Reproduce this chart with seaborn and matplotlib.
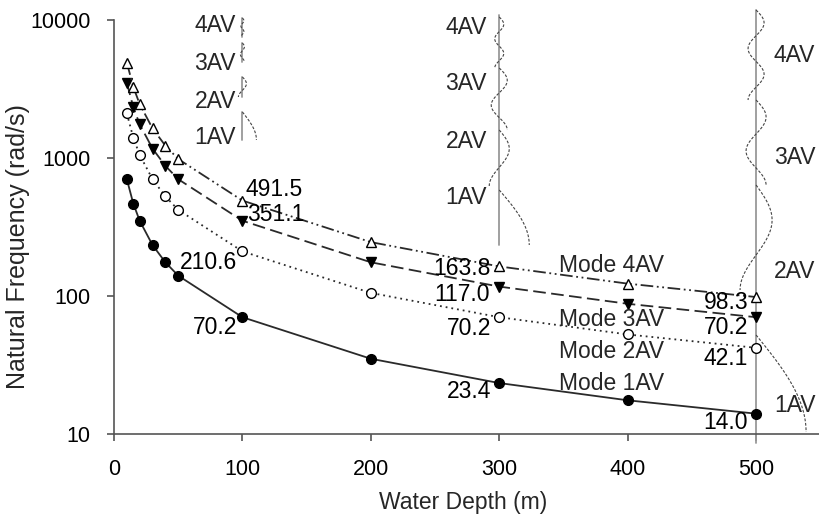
import numpy as np
import pandas as pd
import matplotlib
matplotlib.use("Agg")
import matplotlib.pyplot as plt
import seaborn as sns

# ---------------- data ----------------
depth = [10, 15, 20, 30, 40, 50, 100, 200, 300, 400, 500]
mode_1av = [702, 468, 351, 234, 175.5, 140.4, 70.2, 35.1, 23.4, 17.55, 14.04]
mode_2av = [2106, 1404, 1053, 702, 526.5, 421.2, 210.6, 105.3, 70.2, 52.65, 42.12]
mode_3av = [3511, 2340, 1755, 1170, 877.6, 702.2, 351.1, 175.5, 117.0, 87.8, 70.2]
mode_4av = [4915, 3277, 2458, 1638, 1229, 983, 491.5, 245.7, 163.8, 122.9, 98.3]
mode_names = ["Mode 1AV", "Mode 2AV", "Mode 3AV", "Mode 4AV"]
shape_names = ["1AV", "2AV", "3AV", "4AV"]
labelled_depths = [100, 300, 500]
x_ticks = [0, 100, 200, 300, 400, 500]
y_ticks = [10, 100, 1000, 10000]

series = [mode_1av, mode_2av, mode_3av, mode_4av]

# ---------------- style ----------------
sns.set_style("ticks")
plt.rcParams["font.family"] = ["Liberation Sans", "DejaVu Sans"]
FS_TICK = 15.5
FS = 16.5

W, H = 819, 517
fig = plt.figure(figsize=(W / 100, H / 100), dpi=100)
AX_L, AX_R, AX_T, AX_B = 114, 819, 20, 434
ax = fig.add_axes([AX_L / W, (H - AX_B) / H, (AX_R - AX_L) / W, (AX_B - AX_T) / H])
XMAX = 549

def fx(px):
    return (px - AX_L) / (AX_R - AX_L)

def fy(py):
    return (AX_B - py) / (AX_B - AX_T)

line_color = "#2a2a2a"
styles = [
    dict(marker="o", mfc="black", mec="black", ls="-"),
    dict(marker="o", mfc="white", mec="black", ls=(0, (1, 2.2))),
    dict(marker="v", mfc="black", mec="black", ls=(0, (7, 3))),
    dict(marker="^", mfc="white", mec="black", ls=(0, (7, 2, 1, 2, 1, 2))),
]

for vals, name, st in zip(series, mode_names, styles):
    df = pd.DataFrame({"depth": depth, "freq": vals})
    sns.lineplot(data=df, x="depth", y="freq", ax=ax, color=line_color,
                 linestyle=st["ls"], linewidth=1.3, marker=st["marker"],
                 markersize=7, markerfacecolor=st["mfc"],
                 markeredgecolor=st["mec"], markeredgewidth=1.0,
                 zorder=3, legend=False)

ax.set_yscale("log")
ax.set_xlim(0, XMAX)
ax.set_ylim(10, 10000)
ax.set_xticks(x_ticks)
ax.set_xticklabels([str(v) for v in x_ticks])
ax.set_yticks(y_ticks)
ax.set_yticklabels([str(v) for v in y_ticks])
ax.yaxis.set_minor_locator(matplotlib.ticker.NullLocator())
for s in ["top", "right"]:
    ax.spines[s].set_visible(False)
for s in ["left", "bottom"]:
    ax.spines[s].set_color("#555555")
    ax.spines[s].set_linewidth(1.2)
ax.tick_params(axis="both", colors="#555555", labelcolor="black",
               labelsize=FS_TICK, length=5, width=1.2)
ax.tick_params(axis="x", pad=13)
ax.tick_params(axis="y", pad=12)
ax.grid(False)

ax.set_xlabel("Water Depth (m)", fontsize=FS)
ax.set_ylabel("Natural Frequency (rad/s)", fontsize=18)
ax.xaxis.set_label_coords(fx(463), fy(491))
ax.yaxis.set_label_coords(fx(30), fy(247))

# ---------------- value labels ----------------
# offsets in pixels (dx, dy) and horizontal alignment, per depth & mode
label_fmt = {
    100: [(-5, -10, "right"), (-5, -11, "right"), (5, 6, "left"), (3, 11, "left")],
    300: [(-8, -8, "right"), (-8, -11, "right"), (-9, -8, "right"), (-9, -2, "right")],
    500: [(-8, -9, "right"), (-8, -11, "right"), (-8, -10, "right"), (-8, -5, "right")],
}
for d in labelled_depths:
    i = depth.index(d)
    for k, vals in enumerate(series):
        dx, dy, ha = label_fmt[d][k]
        ax.annotate(f"{vals[i]:.1f}", (d, vals[i]), xytext=(dx, dy),
                    textcoords="offset pixels", ha=ha, va="center",
                    fontsize=FS, color="black", zorder=4)

# mode names
for name, py in zip(mode_names, [383, 351, 319, 265]):
    ax.text(fx(559), fy(py), name, transform=ax.transAxes, ha="left",
            va="center", fontsize=FS)

# ---------------- mode shape sketches ----------------
shape_kw = dict(color="#444444", lw=0.8, ls=(0, (2.5, 1.5)),
                transform=ax.transAxes, clip_on=False, zorder=2)
vline_kw = dict(color="#999999", lw=1.3, transform=ax.transAxes,
                clip_on=False, zorder=1)

def draw_shape(px0, top, bot, n, amp):
    s = np.linspace(0, 1, 80)
    off = amp * np.sin((2 * n - 1) * np.pi / 2 * s)
    ax.plot(fx(px0 + off), fy(top + s * (bot - top)), **shape_kw)

# shapes: (top px, bottom px, amplitude px) for modes 1..4
sketches = {
    100: [(112, 140, 14), (77, 97, 4), (43, 62, 2), (18, 37, 1.5)],
    300: [(190, 245, 30), (130, 186, 10), (68, 130, 8), (17, 68, 4.5)],
    500: [(335, 432, 50), (185, 290, 16), (100, 185, 10), (10, 100, 8)],
}
vlines = {300: (15, 245), 500: (10, 443)}
text_pos = {
    100: ("right", 236, [137, 101, 63, 26]),
    300: ("right", 487, [198, 142, 83, 27]),
    500: ("left", 774, [405, 271, 157, 56]),
}
for d, specs in sketches.items():
    px0 = AX_L + d * (AX_R - AX_L) / XMAX
    if d in vlines:
        t, b = vlines[d]
        ax.plot([fx(px0), fx(px0)], [fy(t), fy(b)], **vline_kw)
    for n, (t, b, a) in enumerate(specs, start=1):
        if d not in vlines:
            ax.plot([fx(px0), fx(px0)], [fy(t), fy(b)], **vline_kw)
        draw_shape(px0, t, b, n, a)

for d, (ha, tx, ys) in text_pos.items():
    for name, py in zip(shape_names, ys):
        ax.text(fx(tx), fy(py), name, transform=ax.transAxes, ha=ha,
                va="center", fontsize=FS)

fig.savefig("out.png", dpi=100)
